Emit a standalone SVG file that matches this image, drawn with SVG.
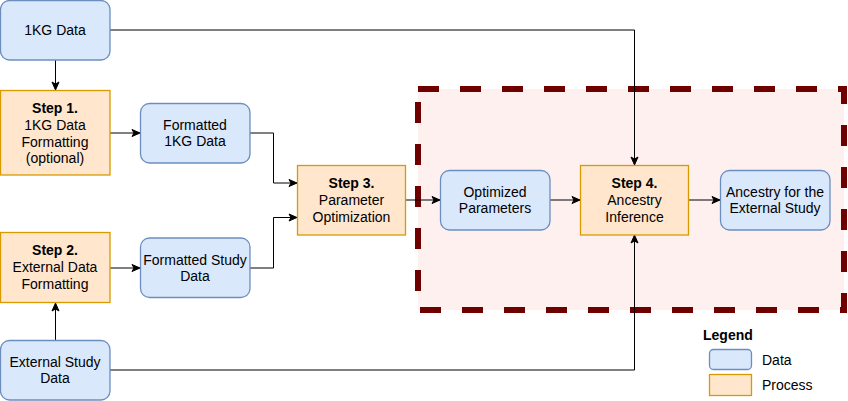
<svg xmlns="http://www.w3.org/2000/svg" width="848" height="401" viewBox="0 0 848 401">
<defs>
<marker id="arr" markerUnits="userSpaceOnUse" markerWidth="10" markerHeight="10" viewBox="0 0 10 10" refX="9" refY="5" orient="auto">
<path d="M1,1.5 L9,5 L1,8.5 L3,5 Z" fill="#000" stroke="#000" stroke-width="1"/>
</marker>
<style>
.data{fill:#dae8fc;stroke:#6c8ebf;stroke-width:1.3}
.proc{fill:#ffe6cc;stroke:#d79b00;stroke-width:1.3}
text{font-family:"Liberation Sans",Arial,sans-serif;font-size:14px;fill:#000}
.c{text-anchor:middle}
.b{font-weight:bold}
.ln{fill:none;stroke:#000;stroke-width:1}
.la{fill:none;stroke:#000;stroke-width:1;marker-end:url(#arr)}
</style>
</defs>
<rect width="848" height="401" fill="#fff"/>
<g id="region">
<rect x="418" y="89" width="426" height="221" fill="#fff0f0" stroke="#6f0000" stroke-width="6" stroke-dasharray="21 21"/>
</g>
<g id="connectors">
<polyline class="la" points="110,30 634.5,30 634.5,165"/>
<line class="la" x1="55.5" y1="60" x2="55.5" y2="90"/>
<line class="la" x1="110" y1="133" x2="140" y2="133"/>
<polyline class="la" points="250,133 273.5,133 273.5,183 297,183"/>
<line class="la" x1="110" y1="268" x2="140" y2="268"/>
<polyline class="la" points="250,268 273.5,268 273.5,217.5 297,217.5"/>
<line class="la" x1="55.5" y1="340" x2="55.5" y2="303"/>
<polyline class="la" points="110,370 634.5,370 634.5,235"/>
<line class="la" x1="405" y1="200" x2="440" y2="200"/>
<line class="la" x1="550" y1="200" x2="580" y2="200"/>
<line class="la" x1="688" y1="200" x2="720" y2="200"/>
</g>
<g id="n1kg">
<rect class="data" x="0.5" y="0.5" width="109.5" height="59.5" rx="9"/>
<text class="c" x="55" y="35">1KG Data</text>
</g>
<g id="step1">
<rect class="proc" x="0.5" y="90.5" width="109.5" height="84.5"/>
<text class="c" x="55" y="113"><tspan class="b">Step 1.</tspan><tspan x="55" dy="16.8">1KG Data</tspan><tspan x="55" dy="16.8">Formatting</tspan><tspan x="55" dy="16.8">(optional)</tspan></text>
</g>
<g id="fmt1kg">
<rect class="data" x="140.5" y="103.5" width="109.5" height="59.5" rx="9"/>
<text class="c" x="195" y="129.6">Formatted<tspan x="195" dy="16.8">1KG Data</tspan></text>
</g>
<g id="step2">
<rect class="proc" x="0.5" y="232.5" width="109.5" height="70"/>
<text class="c" x="55" y="255.2"><tspan class="b">Step 2.</tspan><tspan x="55" dy="16.8">External Data</tspan><tspan x="55" dy="16.8">Formatting</tspan></text>
</g>
<g id="fmtstudy">
<rect class="data" x="140.5" y="238" width="109.5" height="59.5" rx="9"/>
<text class="c" x="195" y="264.6">Formatted Study<tspan x="195" dy="16.8">Data</tspan></text>
</g>
<g id="extstudy">
<rect class="data" x="0.5" y="340.5" width="109.5" height="59.5" rx="9"/>
<text class="c" x="55" y="366.6">External Study<tspan x="55" dy="16.8">Data</tspan></text>
</g>
<g id="step3">
<rect class="proc" x="297.5" y="165.5" width="108" height="69.5"/>
<text class="c" x="351.5" y="188.2"><tspan class="b">Step 3.</tspan><tspan x="351.5" dy="16.8">Parameter</tspan><tspan x="351.5" dy="16.8">Optimization</tspan></text>
</g>
<g id="optparams">
<rect class="data" x="440.5" y="170.5" width="109.5" height="59.5" rx="9"/>
<text class="c" x="495" y="196.6">Optimized<tspan x="495" dy="16.8">Parameters</tspan></text>
</g>
<g id="step4">
<rect class="proc" x="580.5" y="165.5" width="108" height="69.5"/>
<text class="c" x="634.5" y="188.2"><tspan class="b">Step 4.</tspan><tspan x="634.5" dy="16.8">Ancestry</tspan><tspan x="634.5" dy="16.8">Inference</tspan></text>
</g>
<g id="ancestry">
<rect class="data" x="720.5" y="170.5" width="109.5" height="59.5" rx="9"/>
<text class="c" x="775" y="196.6">Ancestry for the<tspan x="775" dy="16.8">External Study</tspan></text>
</g>
<g id="legend">
<text class="b" x="703" y="340">Legend</text>
<rect class="data" x="709.5" y="349.5" width="42" height="20" rx="4"/>
<text x="762" y="365">Data</text>
<rect class="proc" x="709.5" y="374.5" width="42" height="21"/>
<text x="762" y="390">Process</text>
</g>
</svg>
